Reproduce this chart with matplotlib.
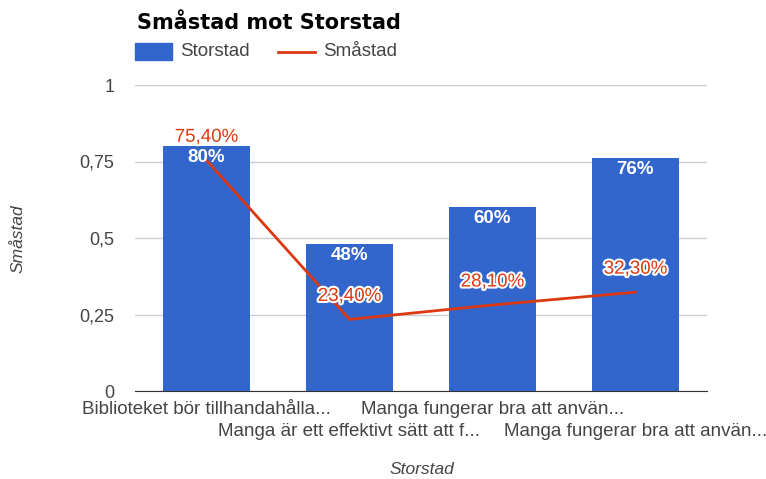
import matplotlib
matplotlib.use("Agg")
import matplotlib.pyplot as plt
import matplotlib.patheffects as pe
from matplotlib.patches import Rectangle
from matplotlib.lines import Line2D

plt.rcParams['font.family'] = ['Liberation Sans', 'DejaVu Sans']

categories = ["Biblioteket bör tillhandahålla...",
              "Manga är ett effektivt sätt att f...",
              "Manga fungerar bra att använ...",
              "Manga fungerar bra att använ..."]
storstad = [0.80, 0.48, 0.60, 0.76]
storstad_labels = ["80%", "48%", "60%", "76%"]
smastad = [0.754, 0.234, 0.281, 0.323]
smastad_labels = ["75,40%", "23,40%", "28,10%", "32,30%"]
yticks = [0, 0.25, 0.5, 0.75, 1]
ytick_labels = ["0", "0,25", "0,5", "0,75", "1"]

BLUE = "#3366cc"
RED = "#dc3912"
GRID = "#cccccc"
TXT = "#444444"

fig = plt.figure(figsize=(7.66, 4.79), dpi=100)
ax = fig.add_axes([135/766, 1-391/479, 572/766, 306/479])

x = list(range(len(categories)))
ax.bar(x, storstad, width=0.61, color=BLUE, zorder=2)
ax.plot(x, smastad, color=RED, lw=2, zorder=3)

for xi, v, lab in zip(x, storstad, storstad_labels):
    ax.annotate(lab, (xi, v), xytext=(0, -11), textcoords="offset pixels",
                ha="center", va="center", color="white", fontsize=13.5,
                fontweight="bold", zorder=4)
for xi, v, lab in zip(x, smastad, smastad_labels):
    ax.annotate(lab, (xi, v), xytext=(0, 23), textcoords="offset pixels",
                ha="center", va="center", color=RED, fontsize=13.5, zorder=5,
                path_effects=[pe.withStroke(linewidth=3, foreground="white")])

ax.set_xlim(-0.5, len(categories) - 0.5)
ax.set_ylim(0, 1)
ax.set_yticks(yticks)
ax.set_yticklabels(ytick_labels, color=TXT, fontsize=13)
ax.yaxis.grid(True, color=GRID, lw=1, zorder=0)
ax.set_axisbelow(True)
for s in ["top", "right", "left"]:
    ax.spines[s].set_visible(False)
ax.spines["bottom"].set_color("#333333")
ax.tick_params(axis="both", length=0)
ax.tick_params(axis="y", pad=15)

ax.set_xticks(x)
ax.set_xticklabels([])
for i, (xi, lab) in enumerate(zip(x, categories)):
    dy = -18 if i % 2 == 0 else -41
    ax.annotate(lab, (xi, 0), xytext=(0, dy), textcoords="offset pixels",
                ha="center", va="center", color=TXT, fontsize=13.5,
                annotation_clip=False)

fig.text(422/766, 1-470/479, "Storstad", ha="center", va="center",
         style="italic", color=TXT, fontsize=12.5)
fig.text(18/766, 1-239/479, "Småstad", ha="center", va="center",
         style="italic", color=TXT, fontsize=12.5, rotation=90)

fig.text(137/766, 1-23/479, "Småstad mot Storstad", ha="left", va="center",
         fontsize=15, fontweight="bold", color="black", family="DejaVu Sans")

fig.patches.append(Rectangle((135/766, 1-60/479), 37/766, 17/479,
                             transform=fig.transFigure, color=BLUE))
fig.text(180/766, 1-52/479, "Storstad", ha="left", va="center", color=TXT, fontsize=13.5)
fig.lines.append(Line2D([278/766, 315/766], [1-52/479, 1-52/479],
                        transform=fig.transFigure, color=RED, lw=2))
fig.text(323/766, 1-52/479, "Småstad", ha="left", va="center", color=TXT, fontsize=13.5)

fig.savefig("out.png", dpi=100)
